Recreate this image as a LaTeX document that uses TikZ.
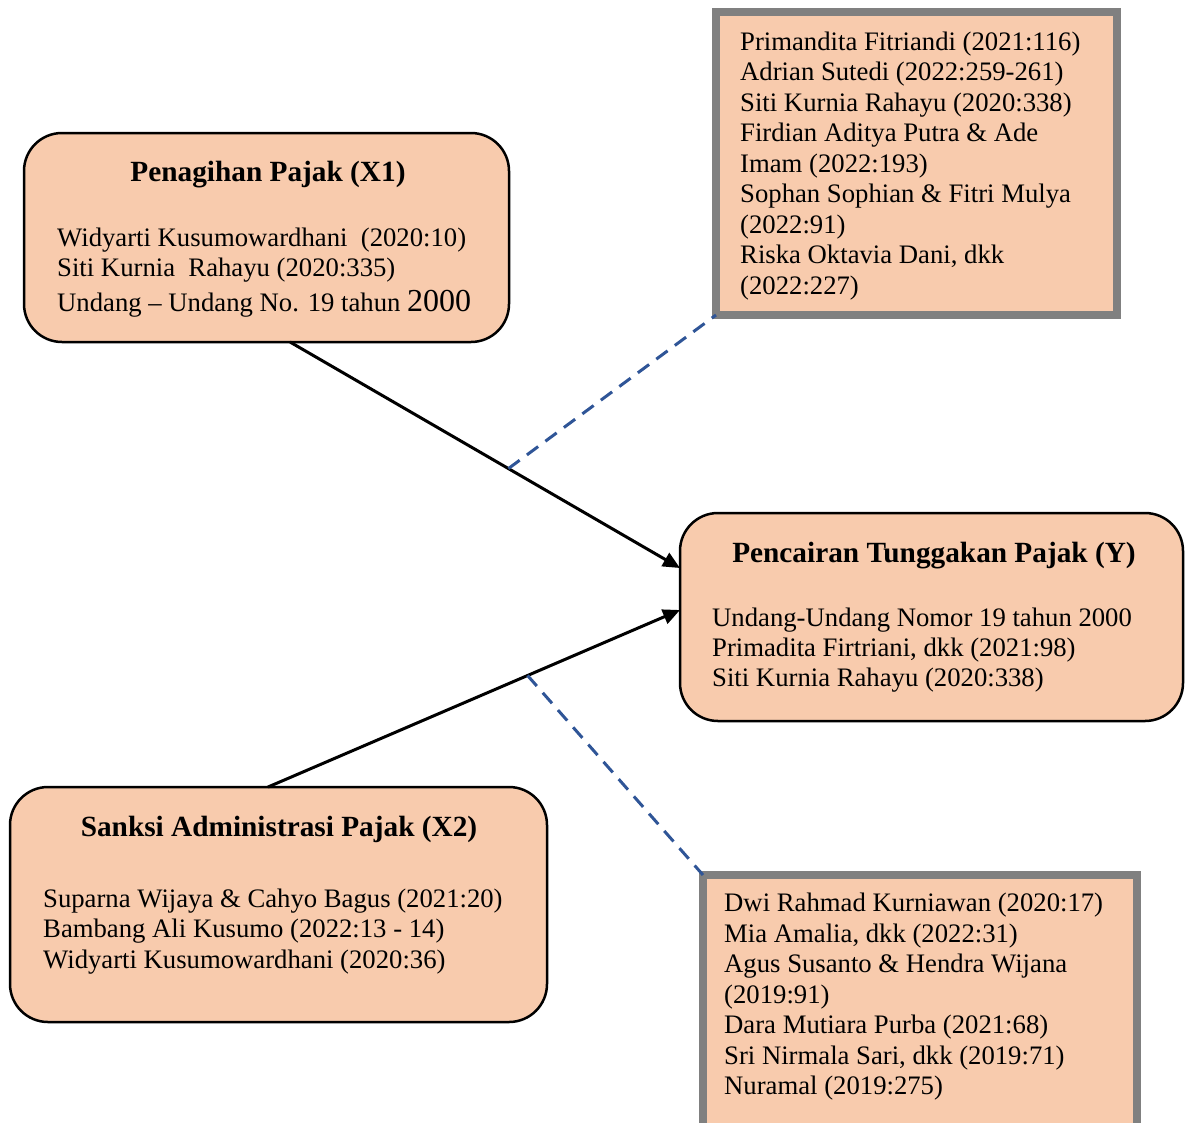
\documentclass[tikz,border=0pt]{standalone}
\usepackage{fontspec}
\setmainfont{Liberation Serif}
\usepackage{xcolor}
\usetikzlibrary{arrows.meta,calc}
\definecolor{boxfill}{HTML}{F8CBAD}
\definecolor{refgray}{HTML}{808080}
\definecolor{linkblue}{HTML}{2F5597}

\begin{document}
\begin{tikzpicture}[x=1pt,y=-1pt,
  varbox/.style={draw=black,line width=2.5pt,fill=boxfill,rounded corners=38pt,inner sep=0pt,outer sep=0pt},
  refbox/.style={draw=refgray,line width=7.5pt,fill=boxfill,inner sep=0pt,outer sep=0pt},
  head/.style={anchor=base,inner sep=0pt,font=\fontsize{29.3}{33}\selectfont\bfseries},
  entry/.style={anchor=base west,inner sep=0pt,font=\fontsize{26.7}{30.5}\selectfont},
  link/.style={line width=3pt,-{Triangle[length=17pt,width=15pt]}},
  cite/.style={linkblue,line width=3pt,dash pattern=on 14pt off 9pt}]
\useasboundingbox (0,0) rectangle (1185,1122);
\node[varbox,minimum width=485pt,minimum height=209pt] (penagihan) at (266.5,237.5) {};
\node[varbox,minimum width=503pt,minimum height=208pt] (pencairan) at (931.5,617) {};
\node[varbox,minimum width=537pt,minimum height=235pt] (sanksi) at (278.5,904.5) {};
\node[refbox,minimum width=401pt,minimum height=303pt] (refpenagihan) at (916.5,163.5) {};
\node[refbox,minimum width=434pt,minimum height=265pt] (refsanksi) at (920,1007.5) {};
\node[head] (h1) at (268,181) {Penagihan Pajak (X1)};
\node[entry] (p1) at (57,246) {Widyarti Kusumowardhani\ \ (2020:10)};
\node[entry] (p2) at (57,276) {Siti Kurnia\ \ Rahayu (2020:335)};
\node[entry] (p3) at (57,311.5) {Undang -- Undang No. 19 tahun {\fontsize{32}{34}\selectfont 2000}};
\node[head] (h2) at (934,562) {Pencairan Tunggakan Pajak (Y)};
\node[entry] (y1) at (712,626.5) {Undang-Undang Nomor 19 tahun 2000};
\node[entry] (y2) at (712,656.5) {Primadita Firtriani, dkk (2021:98)};
\node[entry] (y3) at (712,686.5) {Siti Kurnia Rahayu (2020:338)};
\node[head] (h3) at (279,836.5) {Sanksi Administrasi Pajak (X2)};
\node[entry] (s1) at (43,907) {Suparna Wijaya \& Cahyo Bagus (2021:20)};
\node[entry] (s2) at (43,937.5) {Bambang Ali Kusumo (2022:13 - 14)};
\node[entry] (s3) at (43,968) {Widyarti Kusumowardhani (2020:36)};
\node[entry] (r1) at (740,50) {Primandita Fitriandi (2021:116)};
\node[entry] (r2) at (740,80.5) {Adrian Sutedi (2022:259-261)};
\node[entry] (r3) at (740,111) {Siti Kurnia Rahayu (2020:338)};
\node[entry] (r4) at (740,141.5) {Firdian Aditya Putra \& Ade};
\node[entry] (r5) at (740,172) {Imam (2022:193)};
\node[entry] (r6) at (740,202.5) {Sophan Sophian \& Fitri Mulya};
\node[entry] (r7) at (740,233) {(2022:91)};
\node[entry] (r8) at (740,263.5) {Riska Oktavia Dani, dkk};
\node[entry] (r9) at (740,294) {(2022:227)};
\node[entry] (q1) at (724,911.5) {Dwi Rahmad Kurniawan (2020:17)};
\node[entry] (q2) at (724,942) {Mia Amalia, dkk (2022:31)};
\node[entry] (q3) at (724,972.5) {Agus Susanto \& Hendra Wijana};
\node[entry] (q4) at (724,1003) {(2019:91)};
\node[entry] (q5) at (724,1033.5) {Dara Mutiara Purba (2021:68)};
\node[entry] (q6) at (724,1064) {Sri Nirmala Sari, dkk (2019:71)};
\node[entry] (q7) at (724,1094.5) {Nuramal (2019:275)};
\draw[link] ([xshift=23.5pt]penagihan.south) -- coordinate[pos=0.56] (m1) ([yshift=49pt]pencairan.west);
\draw[link] ([xshift=-10.5pt]sanksi.north) -- coordinate[pos=0.63] (m2) ([yshift=7pt]pencairan.west);
\draw[cite] (m1) -- (refpenagihan.south west);
\draw[cite] (m2) -- (refsanksi.north west);
\end{tikzpicture}
\end{document}
